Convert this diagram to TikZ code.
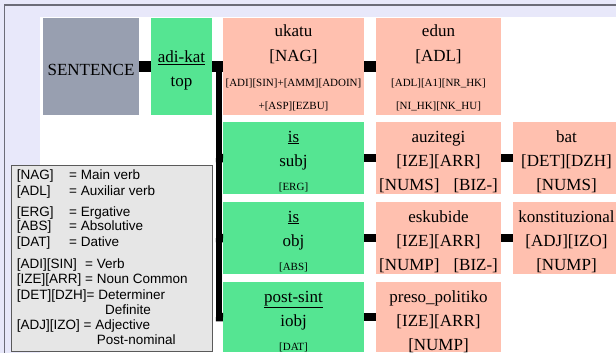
\documentclass[tikz,border=0pt]{standalone}
\usepackage{fontspec}
\setmainfont{Liberation Serif}
\newfontfamily\legfont{Liberation Sans}
\definecolor{lav}{HTML}{E8E8FA}
\definecolor{framec}{HTML}{6C6C78}
\definecolor{sentgray}{HTML}{989FB0}
\definecolor{gnode}{HTML}{55E592}
\definecolor{snode}{HTML}{FFC0AF}
\definecolor{legbg}{HTML}{E6E6E6}
\definecolor{legline}{HTML}{5A5A5A}
\begin{document}
\begin{tikzpicture}[x=1pt,y=-1pt,
  cell/.style={draw=none, inner sep=0pt, anchor=north west},
  sentbox/.style={cell, fill=sentgray},
  gbox/.style={cell, fill=gnode},
  sbox/.style={cell, fill=snode},
  big/.style={font=\fontsize{17}{20}\selectfont, anchor=base, inner sep=0pt},
  small/.style={font=\fontsize{11}{13}\selectfont, anchor=base, inner sep=0pt},
  leg/.style={font=\legfont\fontsize{13.5}{16}\selectfont, anchor=base west, inner sep=0pt},
  conA/.style={line width=11pt, black},
  conB/.style={line width=8.5pt, black},
  trunk/.style={line width=6pt, black}]
\useasboundingbox (0,0) rectangle (616,353);
\clip (0,0) rectangle (616,353);
% background
\fill[lav] (0,0) rectangle (616,353);
\fill[white] (40,17) rectangle (616,353);
\draw[framec, line width=2pt] (4,5.5) -- (616,5.5);
\draw[framec, line width=1.5pt] (4.5,5) -- (4.5,353);

% row 1
\node[sentbox, minimum width=96pt, minimum height=97pt] (sentence) at (43,18) {};
\node[gbox, minimum width=61pt, minimum height=97pt] (adikat) at (151,18) {};
\node[sbox, minimum width=141pt, minimum height=97pt] (ukatu) at (223,18) {};
\node[sbox, minimum width=125pt, minimum height=97pt] (edun) at (376,18) {};
% row 2
\node[gbox, minimum width=141pt, minimum height=72pt] (subj) at (223,122) {};
\node[sbox, minimum width=125pt, minimum height=72pt] (auz) at (376,122) {};
\node[sbox, minimum width=107pt, minimum height=72pt] (bat) at (513,122) {};
% row 3
\node[gbox, minimum width=141pt, minimum height=72pt] (obj) at (223,202) {};
\node[sbox, minimum width=125pt, minimum height=72pt] (esk) at (376,202) {};
\node[sbox, minimum width=107pt, minimum height=72pt] (konst) at (513,202) {};
% row 4
\node[gbox, minimum width=141pt, minimum height=70pt] (iobj) at (223,282) {};
\node[sbox, minimum width=125pt, minimum height=70pt] (preso) at (376,282) {};

% texts row 1
\node[big] (tSent) at (91,75) {SENTENCE};
\node[big] (tAdi) at (181.5,62.5) {\underline{adi-kat}};
\node[big] (tTop) at (181.5,86.5) {top};
\node[big] (tUk1) at (293.5,37) {ukatu};
\node[big] (tUk2) at (293.5,62) {[NAG]};
\node[small] (tUk3) at (293.5,86) {[ADI][SIN]+[AMM][ADOIN]};
\node[small] (tUk4) at (293.5,110) {+[ASP][EZBU]};
\node[big] (tEd1) at (438.5,37) {edun};
\node[big] (tEd2) at (438.5,62) {[ADL]};
\node[small] (tEd3) at (438.5,86) {[ADL][A1][NR\_HK]};
\node[small] (tEd4) at (438.5,110) {[NI\_HK][NK\_HU]};
% texts row 2
\node[big] (tSu1) at (293.5,142) {\underline{is}};
\node[big] (tSu2) at (293.5,166.5) {subj};
\node[small] (tSu3) at (293.5,190) {[ERG]};
\node[big] (tAu1) at (438.5,142) {auzitegi};
\node[big] (tAu2) at (438.5,166.5) {[IZE][ARR]};
\node[big] (tAu3) at (438.5,190) {[NUMS]\hspace{14pt}[BIZ-]};
\node[big] (tBa1) at (566.5,142) {bat};
\node[big] (tBa2) at (566.5,166.5) {[DET][DZH]};
\node[big] (tBa3) at (566.5,190) {[NUMS]};
% texts row 3
\node[big] (tOb1) at (293.5,222) {\underline{is}};
\node[big] (tOb2) at (293.5,246.5) {obj};
\node[small] (tOb3) at (293.5,270) {[ABS]};
\node[big] (tEs1) at (438.5,222) {eskubide};
\node[big] (tEs2) at (438.5,246.5) {[IZE][ARR]};
\node[big] (tEs3) at (438.5,270) {[NUMP]\hspace{14pt}[BIZ-]};
\node[big] (tKo1) at (566.5,222) {konstituzional};
\node[big] (tKo2) at (566.5,246.5) {[ADJ][IZO]};
\node[big] (tKo3) at (566.5,270) {[NUMP]};
% texts row 4
\node[big] (tIo1) at (293.5,302) {\underline{post-sint}};
\node[big] (tIo2) at (293.5,326.5) {iobj};
\node[small] (tIo3) at (293.5,350) {[DAT]};
\node[big] (tPr1) at (438.5,302) {preso\_politiko};
\node[big] (tPr2) at (438.5,326.5) {[IZE][ARR]};
\node[big] (tPr3) at (438.5,350) {[NUMP]};

% connectors
\draw[conA] (sentence.east) -- (adikat.west);
\draw[conA] (adikat.east) -- (ukatu.west);
\draw[conA] (ukatu.east) -- (edun.west);
\coordinate (trTop) at (219,66.5);
\coordinate (trBot) at (219,321);
\draw[trunk] (trTop) -- (trBot);
\coordinate (b2) at (216,158);
\coordinate (b3) at (216,238);
\coordinate (b4) at (216,317);
\draw[conB] (b2) -- (subj.west);
\draw[conB] (b3) -- (obj.west);
\draw[conB] (b4) -- (iobj.west);
\draw[conB] (subj.east) -- (auz.west);
\draw[conB] (auz.east) -- (bat.west);
\draw[conB] (obj.east) -- (esk.west);
\draw[conB] (esk.east) -- (konst.west);
\draw[conB] (iobj.east) -- (preso.west);

% legend
\node[draw=legline, fill=legbg, line width=1pt, inner sep=0pt, anchor=north west,
      minimum width=201pt, minimum height=186pt] (legend) at (10.5,165) {};
\node[leg] (l1a) at (16.7,179.5) {[NAG]};
\node[leg] (l1b) at (69,179.5) {= Main verb};
\node[leg] (l2a) at (16.7,195) {[ADL]};
\node[leg] (l2b) at (69,195) {= Auxiliar verb};
\node[leg] (l3a) at (16.7,216) {[ERG]};
\node[leg] (l3b) at (69,216) {= Ergative};
\node[leg] (l4a) at (16.7,230.7) {[ABS]};
\node[leg] (l4b) at (69,230.7) {= Absolutive};
\node[leg] (l5a) at (16.7,246) {[DAT]};
\node[leg] (l5b) at (69,246) {= Dative};
\node[leg] (l6a) at (16.7,268) {[ADI][SIN]};
\node[leg] (l6b) at (85,268) {= Verb};
\node[leg] (l7) at (16.7,283) {[IZE][ARR] = Noun Common};
\node[leg] (l8) at (16.7,299) {[DET][DZH]= Determiner};
\node[leg] (l9b) at (105,314) {Definite};
\node[leg] (l10) at (16.7,329) {[ADJ][IZO] = Adjective};
\node[leg] (l11b) at (96.7,344) {Post-nominal};
\end{tikzpicture}
\end{document}
